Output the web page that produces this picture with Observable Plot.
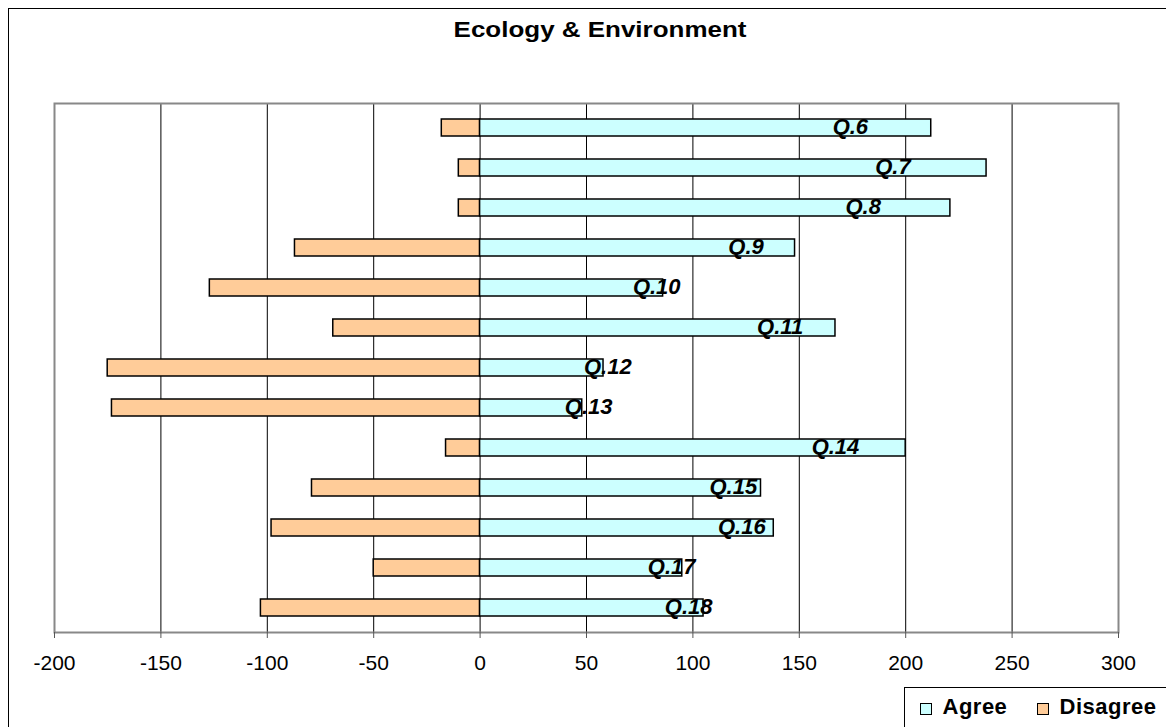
<!DOCTYPE html>
<html>
<head>
<meta charset="utf-8">
<script src="https://cdn.jsdelivr.net/npm/d3@7"></script>
<script src="https://cdn.jsdelivr.net/npm/@observablehq/plot@0.6"></script>
<style>
  html, body { margin: 0; padding: 0; background: #fff; }
  #wrap { position: relative; width: 1166px; height: 727px; overflow: hidden; background: #fff; font-family: "Liberation Sans", Arial, sans-serif; }
  #outer { position: absolute; left: 8px; top: 8px; width: 1300px; height: 900px; border: 1.5px solid #000; box-sizing: border-box; }
  #title { position: absolute; left: 300px; width: 600px; top: 18px; text-align: center; font-weight: bold; font-size: 22px; line-height: 24px; color: #000; transform: scaleX(1.18); transform-origin: 300px 0; }
  #chart { position: absolute; left: 0; top: 0; }
  #legend { position: absolute; left: 904px; top: 687px; width: 320px; height: 60px; border: 1.5px solid #000; background: #fff; box-sizing: border-box; }
  .sw { position: absolute; top: 14.5px; width: 10px; height: 10px; border: 1.2px solid #000; }
  .txt { position: absolute; top: 8px; font-weight: bold; font-size: 22px; line-height: 22px; letter-spacing: 0.5px; color: #000; white-space: nowrap; }
</style>
</head>
<body>
<div id="wrap">
  <div id="outer"></div>
  <div id="title">Ecology &amp; Environment</div>
  <div id="chart"></div>
  <div id="legend">
    <span class="sw" style="left:14.5px;background:#CCFFFF"></span><span class="txt" style="left:37.5px">Agree</span>
    <span class="sw" style="left:131.5px;background:#FFCC99"></span><span class="txt" style="left:154.5px">Disagree</span>
  </div>
</div>
<script>
const categories = ["Q.6","Q.7","Q.8","Q.9","Q.10","Q.11","Q.12","Q.13","Q.14","Q.15","Q.16","Q.17","Q.18"];
const agree = [212, 238, 221, 148, 86, 167, 58, 48, 200, 132, 138, 95, 105];
const disagree = [-18, -10, -10, -87, -127, -69, -175, -173, -16, -79, -98, -50, -103];
const labelPos = [174, 194, 180, 125, 83, 141, 60, 51, 167, 119, 123, 90, 98];
const xTicks = [-200, -150, -100, -50, 0, 50, 100, 150, 200, 250, 300];

const rows = categories.map((q, i) => ({q, agree: agree[i], disagree: disagree[i], label: labelPos[i]}));

const chart = Plot.plot({
  width: 1166,
  height: 727,
  marginLeft: 54,
  marginRight: 48,
  marginTop: 103,
  marginBottom: 95,
  style: {fontFamily: "'Liberation Sans', Arial, sans-serif", background: "transparent", color: "#000"},
  x: {domain: [-200, 300]},
  y: {domain: categories, paddingInner: 0.58, paddingOuter: 0.29, axis: null},
  marks: [
    Plot.ruleX(xTicks.slice(1, -1), {stroke: "#000", strokeWidth: 1}),
    Plot.barX(rows, {x1: 0, x2: "disagree", y: "q", fill: "#FFCC99", stroke: "#000", strokeWidth: 1.5}),
    Plot.barX(rows, {x1: 0, x2: "agree", y: "q", fill: "#CCFFFF", stroke: "#000", strokeWidth: 1.5}),
    Plot.text(rows, {x: "label", y: "q", text: "q", fontSize: 22, fontWeight: "bold", fontStyle: "italic", fill: "#000", dy: -1}),
    Plot.frame({stroke: "#888", strokeWidth: 2}),
    Plot.axisX({ticks: xTicks, tickSize: 6, tickPadding: 17, fontSize: 21, stroke: "#555", fill: "#000", tickFormat: d => String(d), label: null})
  ]
});
document.getElementById("chart").appendChild(chart);
</script>
</body>
</html>
